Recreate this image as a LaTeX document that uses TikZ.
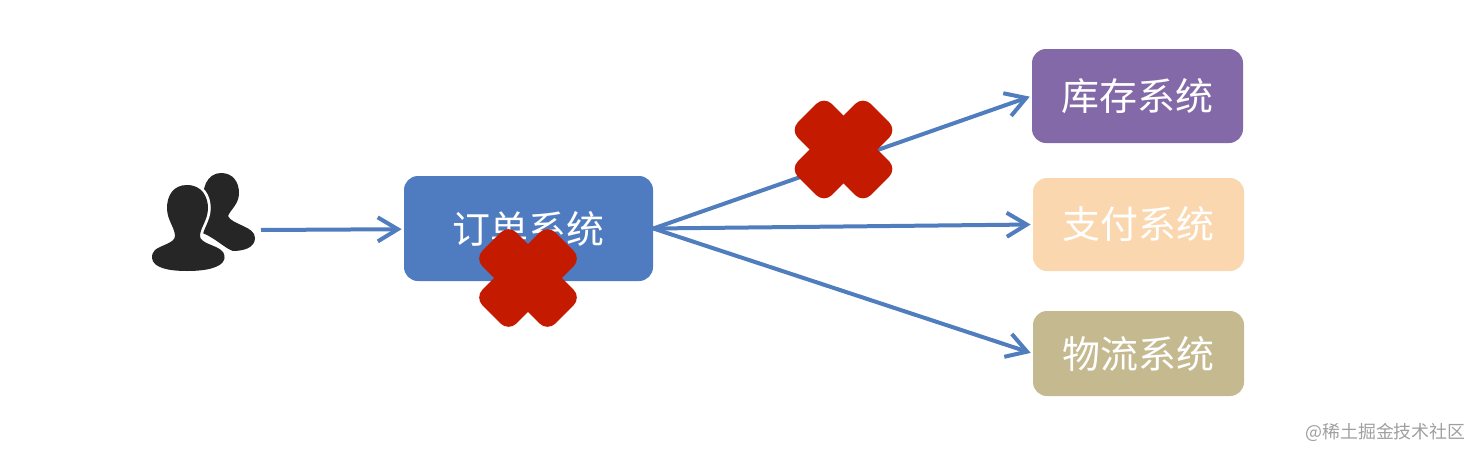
\documentclass[tikz,border=0pt]{standalone}
\usepackage{xcolor}
\usepackage{fontspec}
\newfontfamily\cjk{Noto Sans CJK SC}
\usepackage{tikz}
\usetikzlibrary{arrows.meta,positioning}
\definecolor{line}{HTML}{4F7DBD}
\definecolor{orderblue}{HTML}{4F7BC0}
\definecolor{stockpurple}{HTML}{8469A8}
\definecolor{paypeach}{HTML}{FAD7AE}
\definecolor{shipkhaki}{HTML}{C4B98F}
\definecolor{crossred}{HTML}{C41A00}
\definecolor{icon}{HTML}{262626}

\begin{document}
\begin{tikzpicture}[x=.2mm,y=-.2mm,
  every node/.style={font=\cjk\fontsize{21.6}{24}\selectfont,align=center,inner sep=0pt},
  sysbox/.style={rounded corners=2.8mm,text=white,minimum width=42.2mm},
  crossbar/.style={rounded corners=2.2mm,fill=crossred,minimum width=20.6mm,minimum height=9.6mm},
  arr/.style={-{Straight Barb[length=4mm,width=4.8mm,line width=.8mm]},draw=line,line width=.8mm,shorten >=.4mm}]
  \useasboundingbox (0,0) rectangle (1482,458);
  % people
  \fill[icon] (221,173) .. controls (233,173) and (239,182) .. (239,193)
    .. controls (239,204) and (231,209) .. (228,216) .. controls (232,225) and (255,226) .. (255,238)
    .. controls (255,248) and (243,251) .. (233,251) .. controls (224,248) and (216,238) .. (200,232)
    -- (200,200) -- (206,183) .. controls (209,177) and (214,173) .. (221,173) -- cycle;
  \fill[icon,preaction={draw=white,line width=1.1mm}] (187,185) .. controls (202,185) and (208,197) .. (208,208)
    .. controls (208,220) and (200,228) .. (200,236) .. controls (200,243) and (215,245) .. (221,250)
    .. controls (225,253) and (225,258) .. (224,260) .. controls (221,268) and (205,271) .. (187,271)
    .. controls (169,271) and (153,268) .. (152,258) .. controls (152,254) and (153,252) .. (155,250)
    .. controls (161,245) and (175,243) .. (175,236) .. controls (175,228) and (167,220) .. (167,208)
    .. controls (167,196) and (173,185) .. (187,185) -- cycle;
  \coordinate (user) at (261,230);
  % systems
  \node[sysbox,fill=orderblue,minimum width=49.8mm,minimum height=21mm] (order) at (528.5,228.5) {订单系统};
  \node[sysbox,fill=stockpurple,minimum height=18.8mm] (stock) at (1137.5,96) {库存系统};
  \node[sysbox,fill=paypeach,minimum height=18.6mm] (pay) at (1138.5,224.5) {支付系统};
  \node[sysbox,fill=shipkhaki,minimum height=17mm] (ship) at (1138.5,353.5) {物流系统};
  \draw[arr] (user)--(order);
  \draw[arr] (order.east)--(stock.west);
  \draw[arr] (order.east)--(pay.west);
  \draw[arr] (order.east)--(ship.west);
  % crosses
  \node[crossbar,rotate=45] (downa) at (528,278) {};
  \node[crossbar,rotate=-45] (downb) at (528,278) {};
  \node[crossbar,rotate=45] (linka) at (843.5,149.5) {};
  \node[crossbar,rotate=-45] (linkb) at (843.5,149.5) {};
  \node[font=\cjk\fontsize{10.2}{12}\selectfont,text=gray!75,anchor=east] (mark) at (1466,432) {@稀土掘金技术社区};
\end{tikzpicture}
\end{document}
